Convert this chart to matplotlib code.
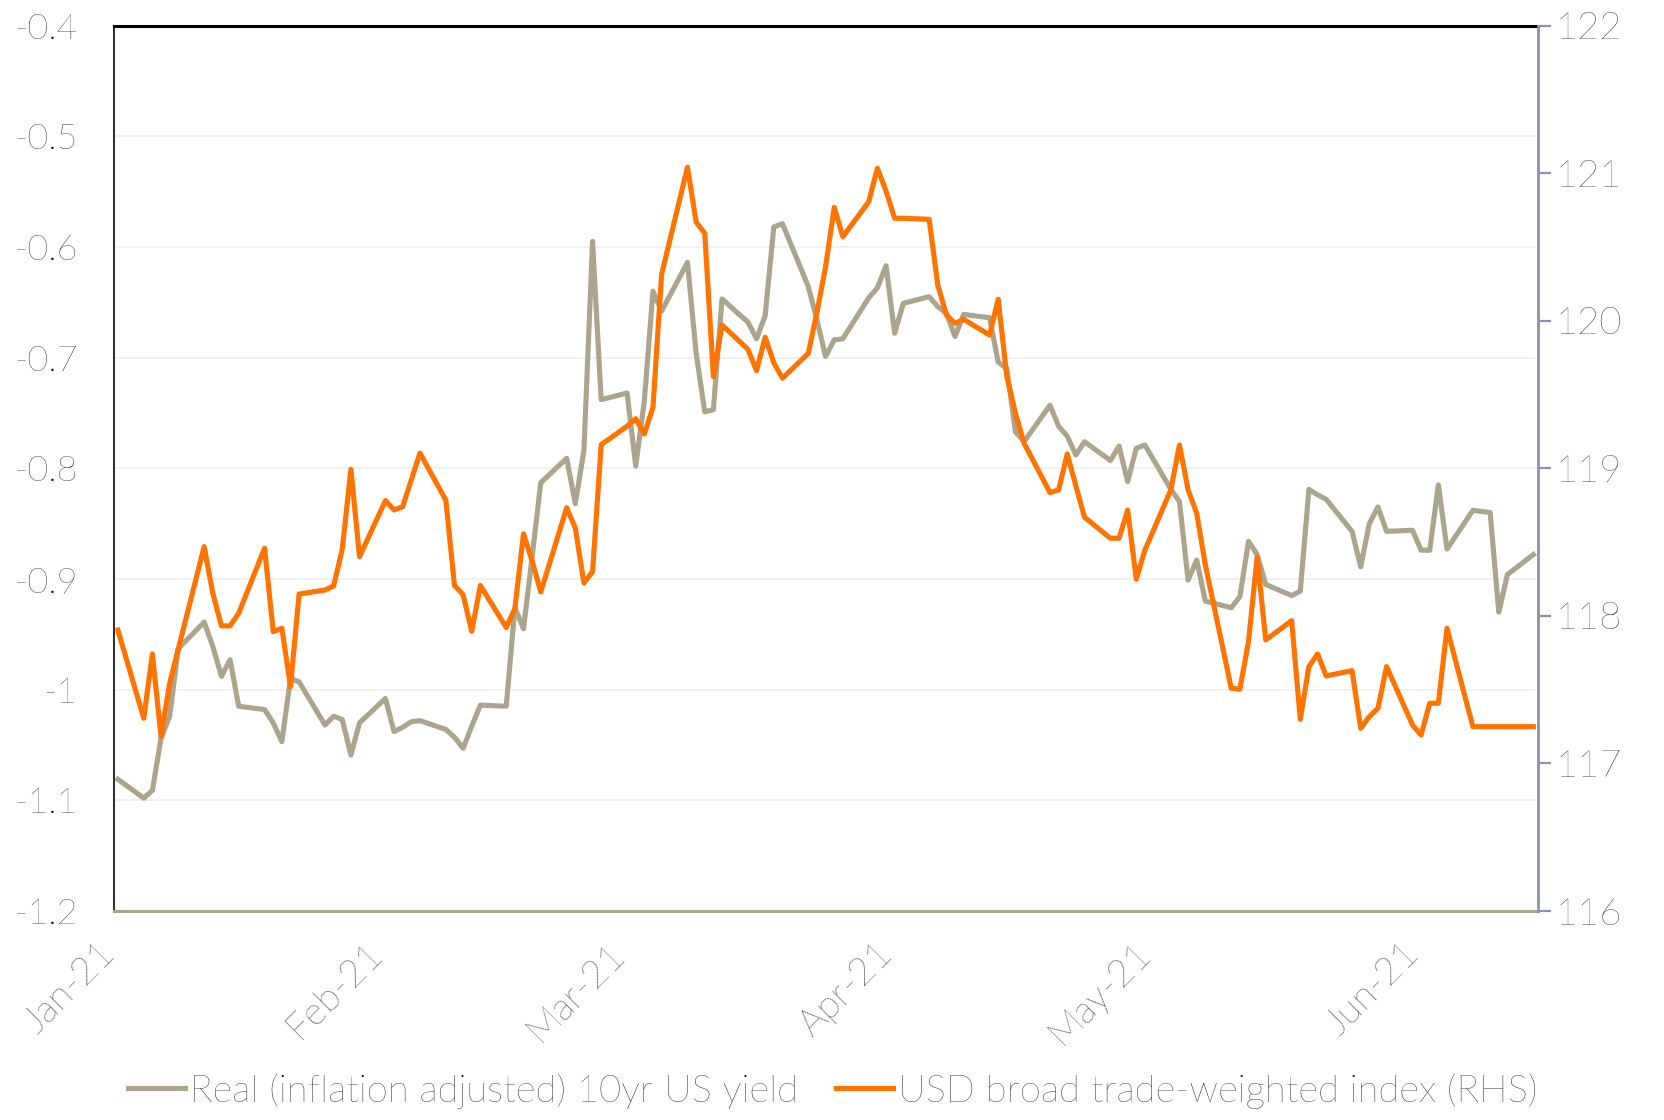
import numpy as np
import pandas as pd
import matplotlib
matplotlib.use("Agg")
import matplotlib.pyplot as plt
import matplotlib.transforms as mtransforms

plt.rcParams['font.family'] = ['Lato', 'DejaVu Sans']
plt.rcParams['font.weight'] = 'light'

# business days, Jan 1 2021 - Jun 14 2021
dates = pd.bdate_range("2021-01-01", "2021-06-14")

# Real (inflation adjusted) 10yr US yield, %
real_yield = [
    -1.081,
    -1.098, -1.091, -1.044, -1.024, -0.963,
    -0.939, -0.961, -0.988, -0.973, -1.015,
    -1.018, -1.030, -1.047, -0.990, -0.993,
    -1.032, -1.024, -1.027, -1.059, -1.030,
    -1.008, -1.038, -1.034, -1.029, -1.028,
    -1.036, -1.043, -1.053, -1.033, -1.014,
    -1.015, -0.926, -0.945, -0.880, -0.813,
    -0.791, -0.832, -0.784, -0.595, -0.738,
    -0.732, -0.798, -0.739, -0.640, -0.658,
    -0.614, -0.696, -0.749, -0.747, -0.647,
    -0.668, -0.683, -0.662, -0.582, -0.579,
    -0.636, -0.666, -0.699, -0.684, -0.683,
    -0.646, -0.637, -0.617, -0.678, -0.651,
    -0.645, -0.654, -0.660, -0.681, -0.661,
    -0.664, -0.704, -0.710, -0.767, -0.776,
    -0.743, -0.762, -0.771, -0.788, -0.776,
    -0.793, -0.780, -0.812, -0.782, -0.779,
    -0.819, -0.830, -0.901, -0.883, -0.920,
    -0.926, -0.916, -0.866, -0.878, -0.905,
    -0.915, -0.911, -0.819, -0.824, -0.828,
    -0.857, -0.889, -0.850, -0.835, -0.857,
    -0.856, -0.874, -0.874, -0.815, -0.873,
    -0.838, -0.839, -0.840, -0.930, -0.896,
    -0.878,
]

# USD broad trade-weighted index (RHS)
usd_index = [
    117.904,
    117.306, 117.742, 117.182, 117.543, 117.776,
    118.469, 118.153, 117.932, 117.932, 118.018,
    118.458, 117.893, 117.916, 117.520, 118.148,
    118.175, 118.203, 118.451, 118.993, 118.401,
    118.781, 118.717, 118.740, 118.921, 119.103,
    118.784, 118.206, 118.144, 117.895, 118.206,
    117.921, 118.050, 118.556, 118.372, 118.162,
    118.732, 118.595, 118.222, 118.300, 119.160,
    119.285, 119.336, 119.232, 119.414, 120.314,
    121.040, 120.668, 120.592, 119.621, 119.971,
    119.806, 119.661, 119.888, 119.715, 119.610,
    119.779, 120.057, 120.366, 120.768, 120.569,
    120.806, 121.033, 120.879, 120.694, 120.694,
    120.687, 120.242, 120.039, 119.982, 120.009,
    119.903, 120.145, 119.621, 119.373, 119.169,
    118.835, 118.853, 119.097, 118.881, 118.668,
    118.526, 118.526, 118.717, 118.248, 118.446,
    118.853, 119.158, 118.853, 118.695, 118.345,
    117.510, 117.503, 117.825, 118.397, 117.837,
    117.967, 117.299, 117.656, 117.742, 117.593,
    117.629, 117.238, 117.317, 117.374, 117.656,
    117.261, 117.193, 117.408, 117.408, 117.916,
    117.249, 117.249, 117.249, 117.249, 117.249,
    117.249,
]

month_ticks = pd.date_range("2021-01-01", "2021-06-01", freq="MS")
month_labels = ["Jan-21", "Feb-21", "Mar-21", "Apr-21", "May-21", "Jun-21"]
yield_ticks = [-1.2, -1.1, -1.0, -0.9, -0.8, -0.7, -0.6, -0.5, -0.4]
yield_labels = ["-1.2", "-1.1", "-1", "-0.9", "-0.8", "-0.7", "-0.6", "-0.5", "-0.4"]
usd_ticks = [116, 117, 118, 119, 120, 121, 122]

series_names = ["Real (inflation adjusted) 10yr US yield",
                "USD broad trade-weighted index (RHS)"]

fig = plt.figure(figsize=(16.65, 11.2), dpi=100)
ax = fig.add_axes([0.0682, 0.1866, 0.8553, 0.7906])
ax2 = ax.twinx()

# points sit in the middle of each day slot
x = dates + pd.Timedelta(hours=12)
l1, = ax.plot(x, real_yield, color="#ADA48E", lw=3.7)
l2, = ax2.plot(x, usd_index, color="#FF7300", lw=3.7)

ax.set_xlim(pd.Timestamp("2021-01-01"), pd.Timestamp("2021-06-15"))
ax.set_ylim(-1.2, -0.4)
ax2.set_ylim(116, 122)

ax.set_yticks(yield_ticks)
ax.set_yticklabels(yield_labels)
ax2.set_yticks(usd_ticks)
ax.set_xticks(month_ticks)
ax.set_xticklabels(month_labels, rotation=45, ha="right", va="top",
                   rotation_mode="anchor")

ax.tick_params(axis="x", length=0, pad=18, labelsize=27.5, labelcolor="black")
ax.tick_params(axis="y", length=0, pad=26, labelsize=26, labelcolor="black")
ax2.tick_params(axis="y", length=9, width=1.6, color="#8A93AE", pad=4,
                labelsize=27.5, labelcolor="black")

# nudge the rotated month labels so their ends sit at the ticks
shift = mtransforms.ScaledTranslation(-0.15, 0, fig.dpi_scale_trans)
for lab in ax.get_xticklabels():
    lab.set_transform(lab.get_transform() + shift)

ax.yaxis.grid(True, color="#EFEFEF", lw=1.2)
ax.set_axisbelow(True)

ax.spines["top"].set_color("black")
ax.spines["top"].set_linewidth(2.2)
ax.spines["left"].set_color("#333333")
ax.spines["left"].set_linewidth(1.5)
ax.spines["bottom"].set_color("#ADA48E")
ax.spines["bottom"].set_linewidth(2.2)
ax.spines["right"].set_visible(False)
for s in ["top", "left", "bottom"]:
    ax2.spines[s].set_visible(False)
ax2.spines["right"].set_color("#8A93AE")
ax2.spines["right"].set_linewidth(2.0)

fig.legend([l1, l2], series_names, loc="center", bbox_to_anchor=(0.5, 0.026),
           ncol=2, frameon=False, fontsize=27.5, handlelength=1.5,
           handletextpad=0.12, columnspacing=1.0)

fig.savefig("out.png", dpi=100)
